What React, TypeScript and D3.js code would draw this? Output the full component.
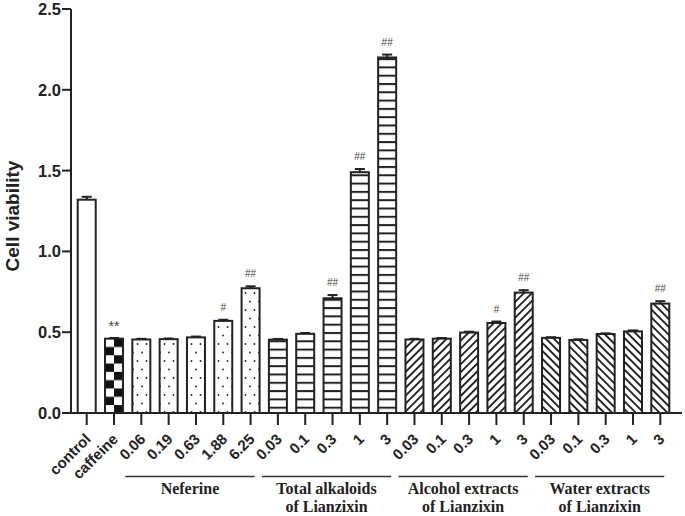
import React from "react";
import * as d3 from "d3";

const categories = [
  "control", "caffeine",
  "0.06", "0.19", "0.63", "1.88", "6.25",
  "0.03", "0.1", "0.3", "1", "3",
  "0.03", "0.1", "0.3", "1", "3",
  "0.03", "0.1", "0.3", "1", "3",
];
const groupsOf = [
  "control", "caffeine",
  "nef", "nef", "nef", "nef", "nef",
  "tot", "tot", "tot", "tot", "tot",
  "alc", "alc", "alc", "alc", "alc",
  "wat", "wat", "wat", "wat", "wat",
];
const values = [
  1.32, 0.46,
  0.455, 0.457, 0.468, 0.57, 0.772,
  0.454, 0.49, 0.71, 1.49, 2.20,
  0.455, 0.46, 0.498, 0.557, 0.745,
  0.465, 0.452, 0.489, 0.505, 0.677,
];
const errors = [
  0.018, 0.004,
  0.004, 0.004, 0.005, 0.007, 0.012,
  0.004, 0.005, 0.02, 0.02, 0.018,
  0.004, 0.004, 0.005, 0.009, 0.015,
  0.004, 0.004, 0.004, 0.006, 0.015,
];
const marks = [
  "", "**",
  "", "", "", "#", "##",
  "", "", "##", "##", "##",
  "", "", "", "#", "##",
  "", "", "", "", "##",
];
const groupLabels = [
  { key: "nef", lines: ["Neferine"] },
  { key: "tot", lines: ["Total alkaloids", "of Lianzixin"] },
  { key: "alc", lines: ["Alcohol extracts", "of Lianzixin"] },
  { key: "wat", lines: ["Water extracts", "of Lianzixin"] },
];
const yTicks = [0, 0.5, 1.0, 1.5, 2.0, 2.5];

const W = 685;
const H = 516;
const axisX = 71;
const axisRight = 682;
const y0 = 413;
const yTop = 9;
const barW = 18;

export default function App() {
  const y = d3.scaleLinear().domain([0, 2.5]).range([y0, yTop]);
  const x = d3
    .scalePoint<number>()
    .domain(d3.range(categories.length))
    .range([86.7, 660.3]);

  const fillFor = (g: string) => {
    switch (g) {
      case "control":
        return "#fff";
      case "caffeine":
        return "url(#checker)";
      case "nef":
        return "url(#dots)";
      case "tot":
        return "url(#hlines)";
      case "alc":
        return "url(#fwd)";
      case "wat":
        return "url(#bwd)";
    }
    return "#fff";
  };

  const cafX = (x(1) as number) - barW / 2;
  const cafTop = y(values[1]);
  const sans = "'Liberation Sans', Arial, sans-serif";
  const serif = "'Liberation Serif', 'Times New Roman', serif";

  return (
    <svg
      width={W}
      height={H}
      style={{ position: "absolute", left: 0, top: 0, background: "#fff" }}
    >
      <defs>
        <pattern id="checker" patternUnits="userSpaceOnUse" x={cafX} y={cafTop} width={18} height={16.6}>
          <rect width={18} height={16.6} fill="#fff" />
          <rect x={9} y={0} width={9} height={8.3} fill="#111" />
          <rect x={0} y={8.3} width={9} height={8.3} fill="#111" />
        </pattern>
        <pattern id="dots" patternUnits="userSpaceOnUse" width={9} height={17}>
          <rect width={9} height={17} fill="#fff" />
          <circle cx={2.5} cy={4} r={0.9} fill="#222" />
          <circle cx={7} cy={12.5} r={0.9} fill="#222" />
        </pattern>
        <pattern id="hlines" patternUnits="userSpaceOnUse" width={10} height={8.3}>
          <rect width={10} height={8.3} fill="#fff" />
          <rect x={0} y={0} width={10} height={2} fill="#222" />
        </pattern>
        <pattern id="fwd" patternUnits="userSpaceOnUse" width={5.6} height={10} patternTransform="rotate(45)">
          <rect width={5.6} height={10} fill="#fff" />
          <rect x={0} y={0} width={1.9} height={10} fill="#222" />
        </pattern>
        <pattern id="bwd" patternUnits="userSpaceOnUse" width={5.6} height={10} patternTransform="rotate(-45)">
          <rect width={5.6} height={10} fill="#fff" />
          <rect x={0} y={0} width={1.9} height={10} fill="#222" />
        </pattern>
      </defs>

      {/* bars */}
      {values.map((v, i) => {
        const cx = x(i) as number;
        const top = y(v);
        const eTop = y(v + errors[i]);
        return (
          <g key={i}>
            <line x1={cx} x2={cx} y1={top} y2={eTop} stroke="#222" strokeWidth={2} />
            <line x1={cx - 5} x2={cx + 5} y1={eTop} y2={eTop} stroke="#222" strokeWidth={2} />
            <rect
              x={cx - barW / 2}
              y={top}
              width={barW}
              height={y0 - top}
              fill={fillFor(groupsOf[i])}
              stroke="#222"
              strokeWidth={2}
            />
            {marks[i] && (
              <text
                x={cx}
                y={eTop - (marks[i] === "**" ? 7 : 9)}
                textAnchor="middle"
                fontFamily={sans}
                fontSize={marks[i] === "**" ? 14 : 10}
                fill="#444"
              >
                {marks[i]}
              </text>
            )}
          </g>
        );
      })}

      {/* y axis */}
      <line x1={axisX} x2={axisX} y1={yTop} y2={y0 + 1} stroke="#222" strokeWidth={2} />
      {yTicks.map((t) => (
        <g key={t}>
          <line x1={axisX - 9} x2={axisX} y1={y(t)} y2={y(t)} stroke="#222" strokeWidth={2} />
          <text
            x={axisX - 10}
            y={y(t)}
            dy="0.36em"
            textAnchor="end"
            fontFamily={sans}
            fontWeight="bold"
            fontSize={16.5}
            fill="#222"
          >
            {t.toFixed(1)}
          </text>
        </g>
      ))}
      <text
        transform={`translate(19, ${(y0 + yTop) / 2 + 5}) rotate(-90)`}
        textAnchor="middle"
        fontFamily={sans}
        fontWeight="bold"
        fontSize={19}
        fill="#222"
      >
        Cell viability
      </text>

      {/* x axis */}
      <line x1={axisX - 1} x2={axisRight} y1={y0} y2={y0} stroke="#222" strokeWidth={2} />
      {categories.map((c, i) => {
        const cx = x(i) as number;
        return (
          <g key={i}>
            <line x1={cx} x2={cx} y1={y0} y2={y0 + 12} stroke="#222" strokeWidth={2} />
            <text
              transform={`translate(${cx + 5}, ${y0 + 27}) rotate(-45)`}
              textAnchor="end"
              fontFamily={sans}
              fontWeight="bold"
              fontSize={15}
              fill="#222"
            >
              {c}
            </text>
          </g>
        );
      })}

      {/* group labels */}
      {groupLabels.map((g) => {
        const idx = groupsOf.map((k, i) => (k === g.key ? i : -1)).filter((i) => i >= 0);
        const x1 = (x(idx[0]) as number) - 16;
        const x2 = (x(idx[idx.length - 1]) as number) + 4;
        const mid = (x1 + x2) / 2;
        return (
          <g key={g.key}>
            <line x1={x1} x2={x2} y1={476.5} y2={476.5} stroke="#333" strokeWidth={1.6} />
            {g.lines.map((l, j) => (
              <text
                key={j}
                x={mid}
                y={494 + j * 18}
                textAnchor="middle"
                fontFamily={serif}
                fontWeight="bold"
                fontSize={16}
                fill="#222"
              >
                {l}
              </text>
            ))}
          </g>
        );
      })}
    </svg>
  );
}
